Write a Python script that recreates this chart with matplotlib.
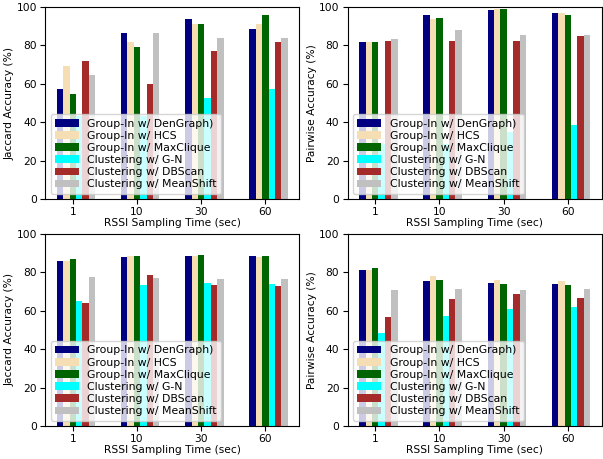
import numpy as np
import matplotlib
matplotlib.use('Agg')
import matplotlib.pyplot as plt

plt.rcParams['font.size'] = 7.7
plt.rcParams['xtick.major.pad'] = 2.5
plt.rcParams['ytick.major.pad'] = 2.5

# sampling times
times = ['1', '10', '30', '60']

labels = ['Group-In w/ DenGraph)', 'Group-In w/ HCS', 'Group-In w/ MaxClique',
          'Clustering w/ G-N', 'Clustering w/ DBScan', 'Clustering w/ MeanShift']
colors = ['navy', 'wheat', 'darkgreen', 'cyan', 'brown', 'silver']

# top left : Jaccard
jac_a_dengraph = [57.4, 86.2, 93.5, 88.3]
jac_a_hcs = [69.5, 81.5, 90.9, 90.9]
jac_a_maxclique = [54.8, 78.9, 90.9, 95.6]
jac_a_gn = [43.0, 43.0, 52.7, 57.4]
jac_a_dbscan = [71.6, 60.0, 76.8, 81.5]
jac_a_meanshift = [64.7, 86.2, 83.6, 83.6]

# top right : Pairwise
pw_a_dengraph = [81.5, 95.6, 98.3, 96.7]
pw_a_hcs = [81.5, 93.5, 98.8, 96.7]
pw_a_maxclique = [81.5, 94.1, 98.8, 95.6]
pw_a_gn = [28.6, 28.6, 34.9, 38.6]
pw_a_dbscan = [82.0, 82.0, 82.0, 84.6]
pw_a_meanshift = [83.1, 87.8, 85.2, 85.2]

# bottom left : Jaccard
jac_b_dengraph = [85.7, 87.8, 88.3, 88.3]
jac_b_hcs = [85.7, 88.3, 88.3, 87.8]
jac_b_maxclique = [86.9, 88.3, 88.9, 88.3]
jac_b_gn = [65.2, 73.2, 74.3, 73.7]
jac_b_dbscan = [64.0, 78.4, 73.2, 72.7]
jac_b_meanshift = [77.4, 76.9, 76.5, 76.5]

# bottom right : Pairwise
pw_b_dengraph = [81.0, 75.3, 74.3, 73.7]
pw_b_hcs = [81.0, 77.9, 75.8, 75.3]
pw_b_maxclique = [82.1, 75.8, 73.7, 73.2]
pw_b_gn = [48.2, 57.0, 60.7, 61.7]
pw_b_dbscan = [56.5, 65.9, 68.5, 66.4]
pw_b_meanshift = [70.6, 71.1, 70.6, 71.1]

panels = [
    ('Jaccard Accuracy (%)', [jac_a_dengraph, jac_a_hcs, jac_a_maxclique,
                              jac_a_gn, jac_a_dbscan, jac_a_meanshift]),
    ('Pairwise Accuracy (%)', [pw_a_dengraph, pw_a_hcs, pw_a_maxclique,
                               pw_a_gn, pw_a_dbscan, pw_a_meanshift]),
    ('Jaccard Accuracy (%)', [jac_b_dengraph, jac_b_hcs, jac_b_maxclique,
                              jac_b_gn, jac_b_dbscan, jac_b_meanshift]),
    ('Pairwise Accuracy (%)', [pw_b_dengraph, pw_b_hcs, pw_b_maxclique,
                               pw_b_gn, pw_b_dbscan, pw_b_meanshift]),
]

bar_width = 0.1
index = np.arange(len(times))

fig, axes = plt.subplots(2, 2, figsize=(6.03, 4.59), dpi=100)
plt.subplots_adjust(left=0.075, right=0.998, top=0.985, bottom=0.072,
                    wspace=0.19, hspace=0.18)

for ax, (ylab, series) in zip(axes.flat, panels):
    for i, vals in enumerate(series):
        ax.bar(index + i * bar_width, vals, bar_width, color=colors[i], label=labels[i])
    ax.set_xticks(index + 2 * bar_width)
    ax.set_xticklabels(times)
    ax.set_ylim(0, 100)
    ax.set_xlabel('RSSI Sampling Time (sec)', labelpad=0.5)
    ax.set_ylabel(ylab, labelpad=1.5)
    ax.legend(loc='lower left', labelspacing=0.2, borderpad=0.4, handlelength=2.2,
              fontsize=7.8)

plt.savefig('out.png')
